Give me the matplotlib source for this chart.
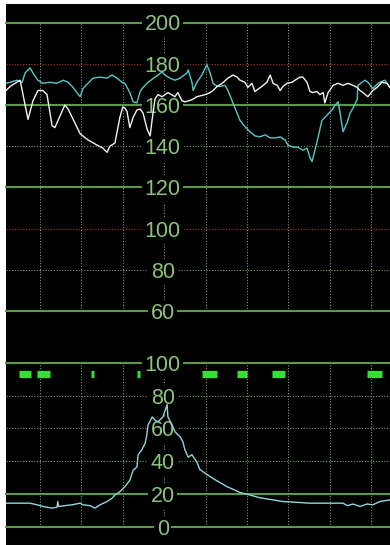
import matplotlib
matplotlib.use("Agg")
import matplotlib.pyplot as plt
from matplotlib.patches import Rectangle

# ---------------- data ----------------
# time in minutes (grid line each minute)
white_t = [0.18, 0.28, 0.44, 0.52, 0.71, 0.83, 0.95, 1.07, 1.17, 1.29, 1.36, 1.60, 1.68, 1.97, 2.16,
           2.38, 2.52, 2.62, 2.69, 2.81, 2.93, 3.00, 3.05, 3.10, 3.17, 3.25, 3.34, 3.42, 3.49, 3.59,
           3.66, 3.71, 3.78, 3.85, 3.95, 4.09, 4.26, 4.33, 4.43, 4.50, 4.67, 4.79, 4.99, 5.11, 5.18,
           5.28, 5.40, 5.54, 5.66, 5.76, 5.83, 5.95, 6.02, 6.12, 6.19, 6.36, 6.48, 6.56, 6.63, 6.73,
           6.80, 6.87, 6.97, 7.09, 7.16, 7.28, 7.35, 7.45, 7.52, 7.59, 7.69, 7.76, 7.84, 7.88, 7.96,
           8.08, 8.20, 8.32, 8.44, 8.56, 8.66, 8.73, 8.80, 8.92, 9.04, 9.14, 9.26, 9.38, 9.45]
white_bpm = [167, 169, 171, 172, 153, 162, 167, 167, 165, 150, 149, 160, 158, 146, 143,
             140.5, 139, 137, 140, 141.5, 154, 159, 158.5, 157, 149, 154, 157.5, 158, 156, 148,
             145, 153, 163, 165, 164, 166, 164, 166, 162, 161.5, 162.5, 164, 165, 166, 167,
             169, 170.5, 173, 174.5, 173.5, 172, 171, 168.5, 170.5, 166.5, 169, 171, 174.5, 170.5, 169.5,
             167, 169, 170.5, 171, 172, 173.5, 173.5, 171, 166.5, 166, 166.5, 165, 166, 161, 166,
             169.5, 170.5, 169.5, 170.5, 169.5, 168.5, 167, 166, 164, 167, 168.5, 171, 170.5, 168.5]

cyan_t = [0.18, 0.28, 0.44, 0.57, 0.64, 0.76, 0.83, 0.95, 1.07, 1.24, 1.41, 1.56, 1.68, 1.80, 1.89,
          1.97, 2.04, 2.16, 2.28, 2.45, 2.62, 2.74, 2.86, 2.98, 3.05, 3.17, 3.25, 3.34, 3.42, 3.49,
          3.61, 3.78, 3.85, 3.95, 4.02, 4.14, 4.26, 4.38, 4.55, 4.58, 4.67, 4.70, 4.79, 4.91, 5.03,
          5.11, 5.18, 5.28, 5.35, 5.47, 5.54, 5.66, 5.76, 5.83, 5.95, 6.07, 6.19, 6.31, 6.44, 6.56,
          6.68, 6.80, 6.92, 6.99, 7.11, 7.23, 7.35, 7.45, 7.52, 7.57, 7.64, 7.72, 7.81, 7.93, 8.05,
          8.13, 8.20, 8.25, 8.32, 8.42, 8.49, 8.56, 8.66, 8.68, 8.78, 8.85, 8.92, 9.04, 9.14, 9.21,
          9.33, 9.45]
cyan_bpm = [170.5, 171, 172, 171, 175.5, 178, 175.5, 172, 170.5, 171, 170.5, 172, 171, 168.5, 166,
            164, 168, 170.5, 173, 173.5, 173, 174.5, 173, 171, 170.5, 166, 161.5, 161, 166.5, 168.5,
            171, 173.5, 174.5, 176, 174.5, 173, 172, 173, 175.5, 177, 171, 167, 171, 174.5, 179.5,
            175.5, 170.5, 169, 169, 169.5, 167, 161, 156, 152.5, 149.5, 147, 145, 144.5, 145.5, 144,
            144, 144.5, 143, 140.5, 139.5, 139.5, 138, 139, 134.5, 132.5, 138, 144.5, 152.5, 155, 157.5,
            160, 161.5, 156, 147, 151.5, 156, 158.5, 162.5, 169.5, 171, 172, 171, 168, 170, 171,
            172, 168.5]

toco_t = [0.18, 0.76, 0.93, 1.07, 1.29, 1.41, 1.43, 1.45, 1.60, 1.77, 1.97, 2.04, 2.21, 2.33, 2.45,
          2.62, 2.74, 2.81, 2.93, 3.05, 3.17, 3.25, 3.34, 3.37, 3.46, 3.54, 3.58, 3.61, 3.71, 3.78,
          3.85, 3.97, 4.07, 4.09, 4.19, 4.26, 4.38, 4.45, 4.50, 4.58, 4.67, 4.79, 4.86, 5.03, 5.18,
          5.35, 5.52, 5.66, 5.83, 6.07, 6.31, 6.63, 6.87, 7.21, 7.52, 7.84, 8.32, 8.42, 8.56, 8.73,
          8.90, 9.04, 9.21, 9.45]
toco_val = [14.5, 14.5, 13.5, 12.5, 11.5, 12, 15.5, 12.5, 13, 13.5, 14.5, 13.5, 13, 11.5, 13.5,
            15.5, 17.5, 19.5, 21.5, 24.5, 28.5, 34.5, 36.5, 44, 47, 51, 56, 62, 67, 65,
            64, 67, 74.5, 67, 62, 58, 55, 52, 47, 42.5, 44, 39.5, 35, 32, 29.5,
            27, 24.5, 23, 21, 19.5, 17.8, 16.5, 15.5, 15, 14.5, 14.5, 14.5, 13, 14, 12.5,
            14, 13.5, 15.5, 16.5]

# fetal movement marks (start, end in minutes)
move_start = [0.50, 0.935, 2.24, 3.343, 4.92, 5.75, 6.60, 8.91]
move_end = [0.775, 1.249, 2.312, 3.415, 5.283, 6.00, 6.918, 9.254]
move_level = 93.4

fhr_levels = [200, 180, 160, 140, 120, 100, 80, 60]
fhr_styles = ["solid", "red", "solid", "dot", "solid", "red", "dot", "solid"]
toco_levels = [100, 80, 60, 40, 20, 0]
toco_styles = ["solid", "dot", "dot", "dot", "solid", "solid"]
minute_lines = [1, 2, 3, 4, 5, 6, 7, 8, 9]
label_x = 4

# ---------------- figure ----------------
W, H = 390, 545
fig = plt.figure(figsize=(W / 100, H / 100), dpi=100, facecolor="white")
fig.add_artist(Rectangle((6 / W, 0), 384 / W, 541 / H, transform=fig.transFigure,
                         facecolor="black", edgecolor="none", zorder=0))

SOLID = "#5a9a4a"
DOT = "#7d9a6e"
RED = "#b03434"
LABEL = "#8cc27a"

ax1 = fig.add_axes([6 / W, 1 - 311 / H, 384 / W, (311 - 22.5) / H])
ax2 = fig.add_axes([6 / W, 1 - 527 / H, 384 / W, (527 - 362.7) / H])

def style_axis(ax, levels, styles, ylim):
    ax.set_facecolor("none")
    ax.set_xlim(0.179, 9.454)
    ax.set_ylim(*ylim)
    for s in ax.spines.values():
        s.set_visible(False)
    ax.set_xticks([])
    ax.set_yticks([])
    ax.vlines(minute_lines, ylim[0], ylim[1], colors=DOT, linestyles=(0, (1, 1.5)),
              linewidth=0.8, zorder=1)
    for lv, st in zip(levels, styles):
        if st == "solid":
            ax.axhline(lv, color=SOLID, lw=1.5, zorder=2, clip_on=False)
        elif st == "red":
            ax.axhline(lv, color=RED, lw=0.8, ls=(0, (1, 1.5)), zorder=2, clip_on=False)
        else:
            ax.axhline(lv, color=DOT, lw=0.8, ls=(0, (1, 1.5)), zorder=2, clip_on=False)
        ax.text(label_x - 0.035, lv, str(lv), color=LABEL, fontsize=15.5,
                family=["Liberation Sans", "DejaVu Sans"], ha="center", va="center_baseline",
                zorder=3, clip_on=False,
                bbox=dict(boxstyle="square,pad=0.12", facecolor="black", edgecolor="none"))

style_axis(ax1, fhr_levels, fhr_styles, (60, 200))
style_axis(ax2, toco_levels, toco_styles, (0, 100))

ax1.plot(cyan_t, cyan_bpm, color="#56c8c8", lw=1.0, zorder=4)
ax1.plot(white_t, white_bpm, color="#f2f2f2", lw=1.0, zorder=5)
ax2.plot(toco_t, toco_val, color="#8fd6dc", lw=1.0, zorder=4)
for s, e in zip(move_start, move_end):
    ax2.plot([s, e], [move_level, move_level], color="#33e033", lw=5.2,
             solid_capstyle="butt", zorder=4)

fig.savefig("out.png", dpi=100, facecolor="white")
